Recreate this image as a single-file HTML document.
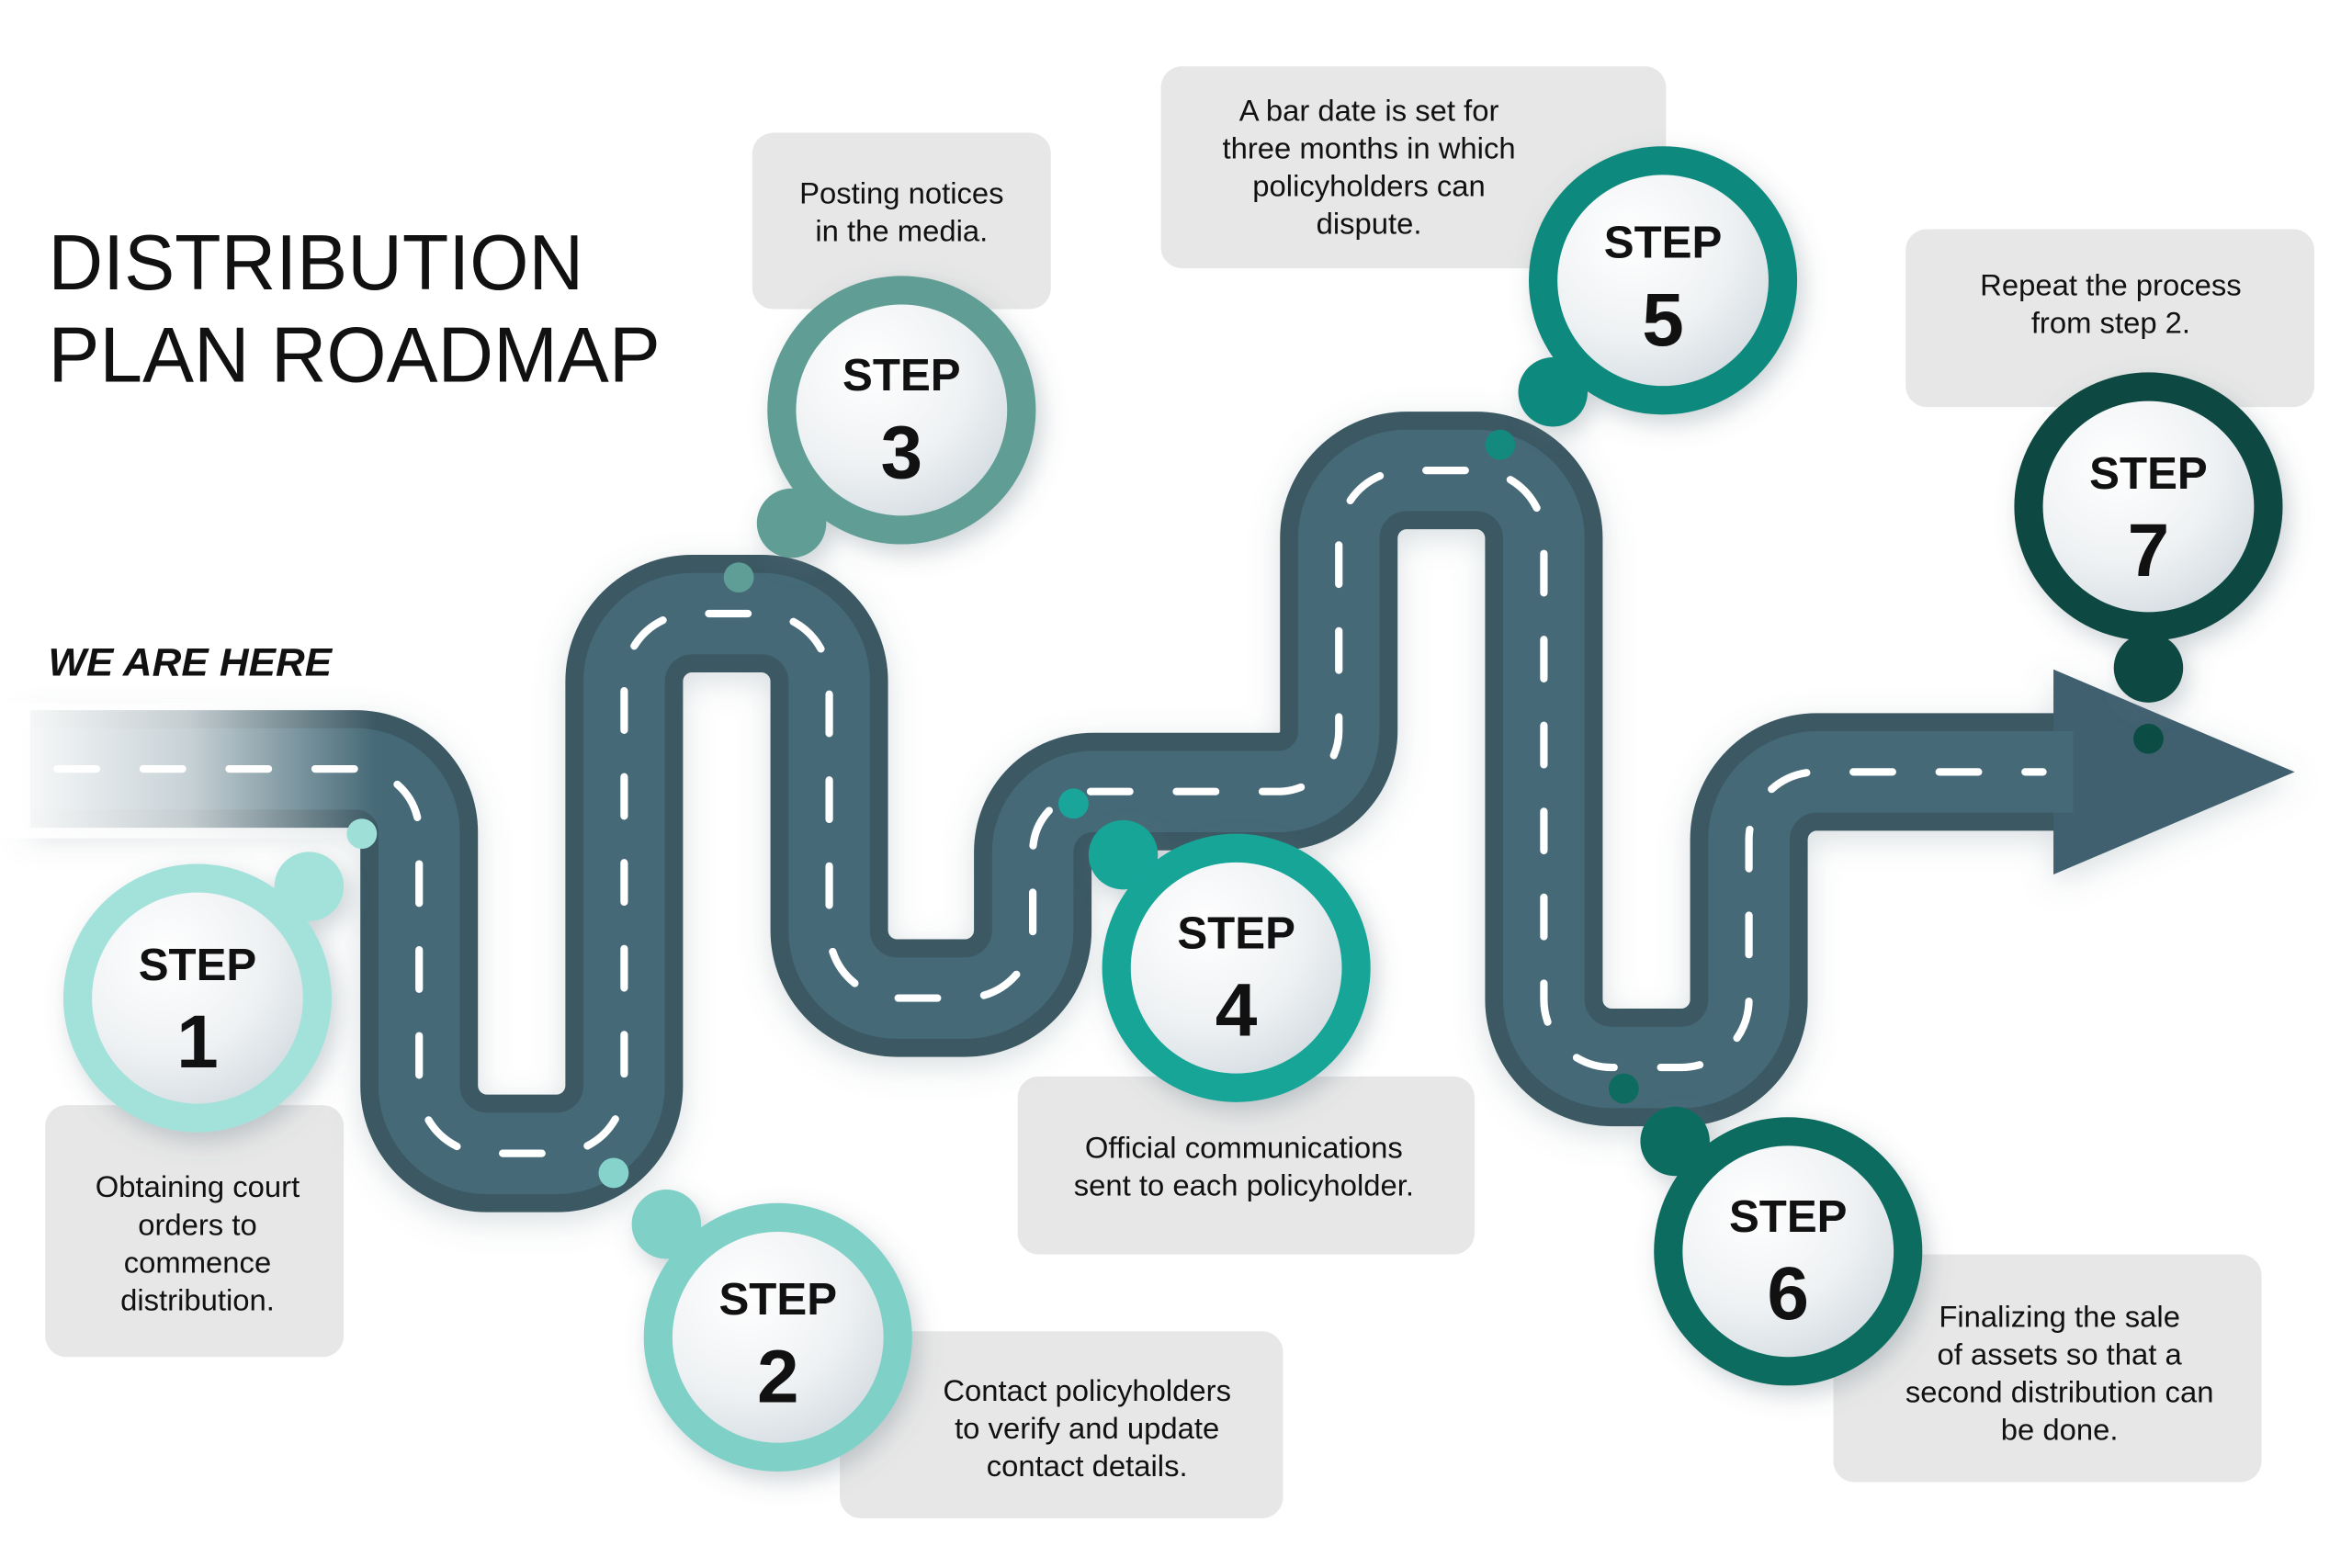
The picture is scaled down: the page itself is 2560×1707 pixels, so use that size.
<!DOCTYPE html>
<html><head><meta charset="utf-8"><style>
html,body{margin:0;padding:0;background:#fff;}
svg{display:block;}
text{font-family:"Liberation Sans",sans-serif;}
</style></head><body>
<svg width="2560" height="1707" viewBox="0 0 1560 1040" preserveAspectRatio="none" xmlns="http://www.w3.org/2000/svg">
<defs>
<radialGradient id="wg" cx="0.35" cy="0.3" r="0.8">
<stop offset="0" stop-color="#ffffff"/><stop offset="0.6" stop-color="#eef1f3"/><stop offset="1" stop-color="#d3dbe0"/>
</radialGradient>
<linearGradient id="fade" x1="0" x2="1" y1="0" y2="0">
<stop offset="0" stop-color="#fff" stop-opacity="1"/><stop offset="0.5" stop-color="#fff" stop-opacity="0.7"/><stop offset="1" stop-color="#fff" stop-opacity="0"/>
</linearGradient>
<filter id="sh" x="-30%" y="-30%" width="160%" height="160%"><feDropShadow dx="4" dy="6" stdDeviation="8" flood-color="#5a6f7a" flood-opacity="0.3"/></filter>
<filter id="sh2" x="-30%" y="-30%" width="160%" height="160%"><feDropShadow dx="0" dy="6" stdDeviation="10" flood-color="#6a7f8a" flood-opacity="0.25"/></filter>
</defs>

<g fill="#e7e7e7">
<rect x="30" y="733" width="198" height="167" rx="14"/>
<rect x="557" y="883" width="294" height="124" rx="14"/>
<rect x="499" y="88" width="198" height="117" rx="14"/>
<rect x="675" y="714" width="303" height="118" rx="14"/>
<rect x="770" y="44" width="335" height="134" rx="14"/>
<rect x="1216" y="832" width="284" height="151" rx="14"/>
<rect x="1264" y="152" width="271" height="118" rx="14"/>
</g>
<g font-size="20" fill="#111" text-anchor="middle">
<text x="131" y="794">Obtaining court</text><text x="131" y="819">orders to</text><text x="131" y="844">commence</text><text x="131" y="869">distribution.</text>
<text x="721" y="929">Contact policyholders</text><text x="721" y="954">to verify and update</text><text x="721" y="979">contact details.</text>
<text x="598" y="135">Posting notices</text><text x="598" y="160">in the media.</text>
<text x="825" y="768">Official communications</text><text x="825" y="793">sent to each policyholder.</text>
<text x="908" y="80">A bar date is set for</text><text x="908" y="105">three months in which</text><text x="908" y="130">policyholders can</text><text x="908" y="155">dispute.</text>
<text x="1366" y="880">Finalizing the sale</text><text x="1366" y="905">of assets so that a</text><text x="1366" y="930">second distribution can</text><text x="1366" y="955">be done.</text>
<text x="1400" y="196">Repeat the process</text><text x="1400" y="221">from step 2.</text>
</g>

<text x="32" y="192" font-size="52" fill="#111" textLength="355" lengthAdjust="spacingAndGlyphs">DISTRIBUTION</text>
<text x="32" y="253" font-size="52" fill="#111" textLength="406" lengthAdjust="spacingAndGlyphs">PLAN ROADMAP</text>
<text x="32" y="448" font-size="26" font-weight="bold" font-style="italic" fill="#111" textLength="188" lengthAdjust="spacingAndGlyphs">WE ARE HERE</text>

<g filter="url(#sh2)">
<path d="M20 510 H236 A42 42 0 0 1 278 552 V720 A45 45 0 0 0 323 765 H369 A45 45 0 0 0 414 720 V452 A45 45 0 0 1 459 407 H505 A45 45 0 0 1 550 452 V617 A45 45 0 0 0 595 662 H640 A45 45 0 0 0 685 617 V565 A40 40 0 0 1 725 525 H848 A40 40 0 0 0 888 485 V357 A45 45 0 0 1 933 312 H979 A45 45 0 0 1 1024 357 V663 A45 45 0 0 0 1069 708 H1115 A45 45 0 0 0 1160 663 V557 A45 45 0 0 1 1205 512 H1375" fill="none" stroke="#3a5864" stroke-width="78"/>
<polygon points="1362,444 1522,512 1362,580" fill="#3f6170"/>
</g>
<path d="M20 510 H236 A42 42 0 0 1 278 552 V720 A45 45 0 0 0 323 765 H369 A45 45 0 0 0 414 720 V452 A45 45 0 0 1 459 407 H505 A45 45 0 0 1 550 452 V617 A45 45 0 0 0 595 662 H640 A45 45 0 0 0 685 617 V565 A40 40 0 0 1 725 525 H848 A40 40 0 0 0 888 485 V357 A45 45 0 0 1 933 312 H979 A45 45 0 0 1 1024 357 V663 A45 45 0 0 0 1069 708 H1115 A45 45 0 0 0 1160 663 V557 A45 45 0 0 1 1205 512 H1375" fill="none" stroke="#456977" stroke-width="54"/>
<rect x="0" y="466" width="250" height="90" fill="url(#fade)"/>
<path d="M38 510 H236 A42 42 0 0 1 278 552 V720 A45 45 0 0 0 323 765 H369 A45 45 0 0 0 414 720 V452 A45 45 0 0 1 459 407 H505 A45 45 0 0 1 550 452 V617 A45 45 0 0 0 595 662 H640 A45 45 0 0 0 685 617 V565 A40 40 0 0 1 725 525 H848 A40 40 0 0 0 888 485 V357 A45 45 0 0 1 933 312 H979 A45 45 0 0 1 1024 357 V663 A45 45 0 0 0 1069 708 H1115 A45 45 0 0 0 1160 663 V557 A45 45 0 0 1 1205 512 H1355" fill="none" stroke="#fff" stroke-width="5" stroke-linecap="round" stroke-dasharray="26 31"/>

<circle cx="240" cy="553" r="10" fill="#9ee0d8"/>
<circle cx="407" cy="778" r="10" fill="#86d3cb"/>
<circle cx="490" cy="383" r="10" fill="#5f9e96"/>
<circle cx="712" cy="533" r="10" fill="#1aa59a"/>
<circle cx="995" cy="295" r="10" fill="#148a7e"/>
<circle cx="1077" cy="722" r="10" fill="#0d6b5f"/>
<circle cx="1425" cy="490" r="10" fill="#0b4d44"/>

<g font-weight="bold" text-anchor="middle" fill="#111">
<g filter="url(#sh)"><circle cx="205" cy="588" r="23" fill="#a3e2da"/><circle cx="131" cy="662" r="89" fill="#a3e2da"/></g>
<circle cx="131" cy="662" r="70" fill="url(#wg)"/>
<text x="131" y="650" font-size="30">STEP</text><text x="131" y="708" font-size="50">1</text>

<g filter="url(#sh)"><circle cx="442" cy="812" r="23" fill="#7fd0c7"/><circle cx="516" cy="887" r="89" fill="#7fd0c7"/></g>
<circle cx="516" cy="887" r="70" fill="url(#wg)"/>
<text x="516" y="872" font-size="30">STEP</text><text x="516" y="930" font-size="50">2</text>

<g filter="url(#sh)"><circle cx="525" cy="347" r="23" fill="#5f9d95"/><circle cx="598" cy="272" r="89" fill="#5f9d95"/></g>
<circle cx="598" cy="272" r="70" fill="url(#wg)"/>
<text x="598" y="259" font-size="30">STEP</text><text x="598" y="317" font-size="50">3</text>

<g filter="url(#sh)"><circle cx="745" cy="567" r="23" fill="#12a597"/><circle cx="820" cy="642" r="89" fill="#12a597"/></g>
<circle cx="820" cy="642" r="70" fill="url(#wg)"/>
<text x="820" y="629" font-size="30">STEP</text><text x="820" y="687" font-size="50">4</text>

<g filter="url(#sh)"><circle cx="1030" cy="260" r="23" fill="#118a7d"/><circle cx="1103" cy="186" r="89" fill="#118a7d"/></g>
<circle cx="1103" cy="186" r="70" fill="url(#wg)"/>
<text x="1103" y="171" font-size="30">STEP</text><text x="1103" y="229" font-size="50">5</text>

<g filter="url(#sh)"><circle cx="1111" cy="757" r="23" fill="#0e6c60"/><circle cx="1186" cy="830" r="89" fill="#0e6c60"/></g>
<circle cx="1186" cy="830" r="70" fill="url(#wg)"/>
<text x="1186" y="817" font-size="30">STEP</text><text x="1186" y="875" font-size="50">6</text>

<g filter="url(#sh)"><circle cx="1425" cy="443" r="23" fill="#0b4a42"/><circle cx="1425" cy="336" r="89" fill="#0b4a42"/></g>
<circle cx="1425" cy="336" r="70" fill="url(#wg)"/>
<text x="1425" y="324" font-size="30">STEP</text><text x="1425" y="382" font-size="50">7</text>
</g>
</svg>
</body></html>
